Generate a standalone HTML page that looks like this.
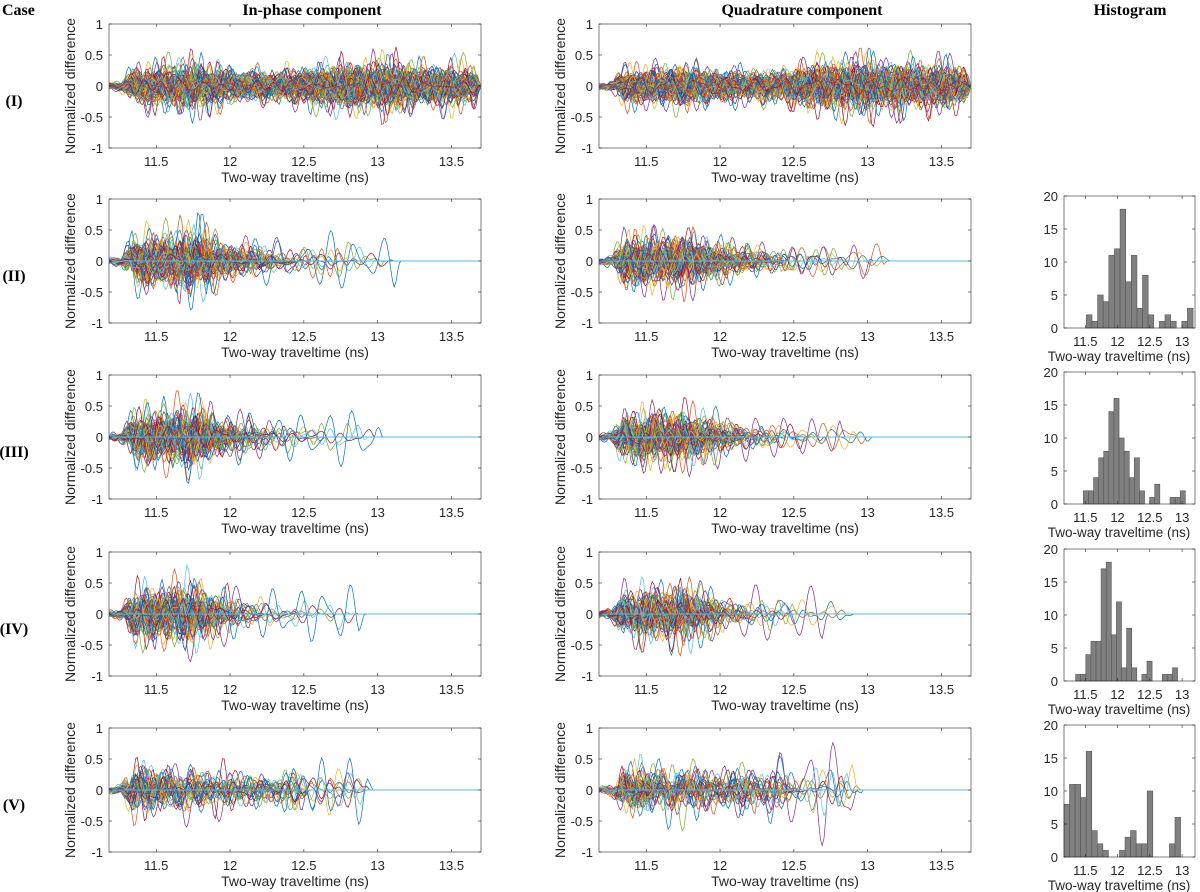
<!DOCTYPE html>
<html><head><meta charset="utf-8">
<style>
html,body{margin:0;padding:0;background:#fff;}
svg{display:block;}
text{font-family:"Liberation Sans",Helvetica,sans-serif;fill:#262626;}
.ttl{font-family:"Liberation Serif",serif;font-weight:bold;font-size:16px;fill:#000;}
</style></head>
<body>
<svg id="fig" width="1200" height="892" viewBox="0 0 1200 892" xmlns="http://www.w3.org/2000/svg">
<text class="ttl" x="2" y="15">Case</text>
<text class="ttl" x="312" y="15" text-anchor="middle">In-phase component</text>
<text class="ttl" x="802" y="15" text-anchor="middle">Quadrature component</text>
<text class="ttl" x="1130" y="15" text-anchor="middle">Histogram</text>
</svg>
<script>
// ---- data ----
const caseLabels = ["(I)","(II)","(III)","(IV)","(V)"];
const xTicks = [11.5,12,12.5,13,13.5];
const yTicks = [-1,-0.5,0,0.5,1];
const yTickLabels = ["-1","-0.5","0","0.5","1"];
const histXTicks = [11.5,12,12.5,13];
const histYTicks = [0,5,10,15,20];
// envelope knots (ns) and amplitude per panel
const envT = [11.18,11.27,11.35,11.5,11.65,11.75,11.9,12.1,12.3,12.5,12.7,12.9,13.1,13.3,13.5,13.7];
const envI_in  = [0.03,0.06,0.22,0.24,0.26,0.30,0.22,0.18,0.18,0.20,0.26,0.30,0.30,0.22,0.26,0.22];
const envI_q   = [0.03,0.05,0.20,0.22,0.22,0.26,0.20,0.18,0.18,0.22,0.28,0.30,0.30,0.26,0.26,0.22];
const envII_in = [0.03,0.06,0.28,0.32,0.35,0.40,0.28,0.20,0.18,0.18,0.26,0.26,0.26,0.26,0.26,0.26];
const envII_q  = [0.03,0.06,0.28,0.30,0.32,0.32,0.26,0.20,0.18,0.18,0.22,0.22,0.22,0.22,0.22,0.22];
const envIII_in= [0.03,0.06,0.28,0.32,0.35,0.40,0.28,0.20,0.18,0.18,0.22,0.22,0.22,0.22,0.22,0.22];
const envIII_q = [0.03,0.06,0.28,0.30,0.32,0.32,0.26,0.20,0.18,0.18,0.20,0.20,0.20,0.20,0.20,0.20];
const envIV_in = [0.03,0.06,0.28,0.32,0.36,0.40,0.28,0.22,0.22,0.22,0.22,0.22,0.22,0.22,0.22,0.22];
const envIV_q  = [0.03,0.06,0.28,0.30,0.32,0.36,0.28,0.22,0.22,0.22,0.22,0.22,0.22,0.22,0.22,0.22];
const envV_in  = [0.03,0.06,0.28,0.28,0.28,0.28,0.26,0.22,0.22,0.28,0.32,0.32,0.28,0.28,0.28,0.28];
const envV_q   = [0.03,0.06,0.28,0.28,0.30,0.32,0.28,0.26,0.26,0.32,0.42,0.36,0.32,0.32,0.32,0.32];
// histograms: bin start (ns), bin width (ns), counts
const histIIStart = 11.517, histIIWidth = 0.087;
const histIICounts = [2,1,5,4,11,12,18,7,11,3,8,2,0,1,2,1,0,1,3];
const histIIIStart = 11.47, histIIIWidth = 0.079;
const histIIICounts = [2,2,4,7,8,14,16,10,8,4,7,2,0,1,3,0,0,1,1,2];
const histIVStart = 11.35, histIVWidth = 0.079;
const histIVCounts = [1,1,4,6,6,17,18,7,12,2,8,2,0,1,3,0,0,1,1,2];
const histVStart = 11.17, histVWidth = 0.086;
const histVCounts = [8,11,11,9,16,4,2,1,0,0,1,3,4,2,2,10,0,0,0,2,6];

// ---- layout ----
const NS="http://www.w3.org/2000/svg";
const svg=document.getElementById('fig');
const colX=[109,599], W=372, H=124;
const rowTops=[24,199,375,552,728];
const xMin=11.18,xMax=13.7;
const hX0=1064,hX1=1195,hMin=11.17,hMax=13.2;
const colors=["#0072BD","#D95319","#EDB120","#7E2F8E","#77AC30","#4DBEEE","#A2142F"];
function el(tag,attrs,parent){const e=document.createElementNS(NS,tag);for(const k in attrs)e.setAttribute(k,attrs[k]);(parent||svg).appendChild(e);return e;}
function envAt(env,t){if(t<=envT[0])return env[0];for(let i=1;i<envT.length;i++){if(t<=envT[i]){const f=(t-envT[i-1])/(envT[i]-envT[i-1]);return env[i-1]+f*(env[i]-env[i-1]);}}return env[env.length-1];}
function endTimes(start,width,counts,n){const out=[];if(!counts){for(let i=0;i<n;i++)out.push(xMax);return out;}
 counts.forEach((c,b)=>{for(let j=0;j<c;j++)out.push(start+width*(b+(j+0.5)/c));});return out;}

function linePanel(r,c,env,ends,name){
 const L=colX[c],T=rowTops[r];
 const g=el('g',{});
 
 
 const xs=t=>L+(t-xMin)/(xMax-xMin)*W, ys=v=>T+(1-v)/2*H;
 const clip=el('clipPath',{id:'clip'+r+c},g);el('rect',{x:L,y:T,width:W,height:H},clip);
 const tg=el('g',{'clip-path':'url(#clip'+r+c+')'},g);
 const n=ends.length;
 for(let k=0;k<n;k++){
  const end=ends[k];
  const f1=5+((k*37+c*11)%40)/10, f2=8+((k*53+r*7)%30)/10, f3=3+((k*29)%30)/10;
  const p1=k*2.399+r, p2=k*1.711+c*3, p3=k*0.937;
  let sc=0.35+((k*61+r*13+c*5)%100)/120;
  if(k%11===3) sc=1.7;
  let d='';
  for(let t=xMin;t<=xMax+0.001;t+=0.012){
   let v=0;
   if(t<end){
    const taper=Math.min(1,(end-t)/0.04);
    v=envAt(env,t)*sc*taper*(0.6*Math.sin(2*Math.PI*f1*t+p1)+0.4*Math.sin(2*Math.PI*f2*t+p2)+0.3*Math.sin(2*Math.PI*f3*t+p3));
   }
   d+=(d?'L':'M')+xs(t).toFixed(1)+' '+ys(Math.max(-1,Math.min(1,v))).toFixed(1);
  }
  const p=el('path',{d:d,fill:'none',stroke:colors[k%7],'stroke-width':0.7},tg);
  
  
 }
 if(r>0){el('line',{x1:L,x2:L+W,y1:ys(0),y2:ys(0),stroke:'#4DBEEE','stroke-width':1},tg);}
 el('rect',{x:L,y:T,width:W,height:H,fill:'none',stroke:'#262626','stroke-width':0.6},g);
 xTicks.forEach(t=>{const x=xs(t);el('line',{x1:x,x2:x,y1:T+H,y2:T+H-3,stroke:'#262626','stroke-width':0.6},g);el('line',{x1:x,x2:x,y1:T,y2:T+3,stroke:'#262626','stroke-width':0.6},g);
  const tx=el('text',{x:x,y:T+H+18,'text-anchor':'middle','font-size':13},g);tx.textContent=String(t);});
 yTicks.forEach((v,i)=>{const y=ys(v);el('line',{x1:L,x2:L+3,y1:y,y2:y,stroke:'#262626','stroke-width':0.6},g);el('line',{x1:L+W,x2:L+W-3,y1:y,y2:y,stroke:'#262626','stroke-width':0.6},g);
  const tx=el('text',{x:L-6,y:y+5,'text-anchor':'end','font-size':13},g);tx.textContent=yTickLabels[i];});
 const xl=el('text',{x:L+W/2,y:T+H+34,'text-anchor':'middle','font-size':14},g);xl.textContent='Two-way traveltime (ns)';
 
 const yx=L-34, yy=T+H/2;
 const yl=el('text',{x:yx,y:yy,'text-anchor':'middle','font-size':14,transform:'rotate(-90 '+yx+' '+yy+')'},g);yl.textContent='Normalized difference';
 
}

function histPanel(r,start,width,counts,name){
 const T=rowTops[r]-3,Hh=132;
 const g=el('g',{});
 
 
 const xs=t=>hX0+(t-hMin)/(hMax-hMin)*(hX1-hX0), ys=v=>T+Hh-v/20*Hh;
 counts.forEach((c,b)=>{if(!c)return;const x0=xs(start+b*width),x1=xs(start+(b+1)*width);
  const rc=el('rect',{x:x0,y:ys(c),width:x1-x0,height:ys(0)-ys(c),fill:'#808080',stroke:'#555','stroke-width':0.6},g);
  });
 el('rect',{x:hX0,y:T,width:hX1-hX0,height:Hh,fill:'none',stroke:'#262626','stroke-width':0.6},g);
 histXTicks.forEach(t=>{const x=xs(t);el('line',{x1:x,x2:x,y1:T+Hh,y2:T+Hh-3,stroke:'#262626','stroke-width':0.6},g);el('line',{x1:x,x2:x,y1:T,y2:T+3,stroke:'#262626','stroke-width':0.6},g);
  const tx=el('text',{x:x,y:T+Hh+18,'text-anchor':'middle','font-size':13},g);tx.textContent=String(t);});
 histYTicks.forEach(v=>{const y=ys(v);el('line',{x1:hX0,x2:hX0+3,y1:y,y2:y,stroke:'#262626','stroke-width':0.6},g);el('line',{x1:hX1,x2:hX1-3,y1:y,y2:y,stroke:'#262626','stroke-width':0.6},g);
  const tx=el('text',{x:hX0-6,y:y+5,'text-anchor':'end','font-size':13},g);tx.textContent=String(v);});
 const xl=el('text',{x:1119,y:T+Hh+33,'text-anchor':'middle','font-size':13.5},g);xl.textContent='Two-way traveltime (ns)';
 
}

caseLabels.forEach((lab,r)=>{const t=el('text',{x:14,y:rowTops[r]+82,'text-anchor':'middle',class:'ttl'});t.textContent=lab;
 });

const rowsDef=[
 [envI_in,envI_q,null,null,null],
 [envII_in,envII_q,histIIStart,histIIWidth,histIICounts],
 [envIII_in,envIII_q,histIIIStart,histIIIWidth,histIIICounts],
 [envIV_in,envIV_q,histIVStart,histIVWidth,histIVCounts],
 [envV_in,envV_q,histVStart,histVWidth,histVCounts]];
rowsDef.forEach((d,r)=>{
 const ends=endTimes(d[2],d[3],d[4],100);
 linePanel(r,0,d[0],ends,'in-phase-panel-'+(r+1));
 linePanel(r,1,d[1],ends.slice().reverse(),'quadrature-panel-'+(r+1));
 if(d[4])histPanel(r,d[2],d[3],d[4],'histogram-panel-'+(r+1));
});
</script>
</body></html>
